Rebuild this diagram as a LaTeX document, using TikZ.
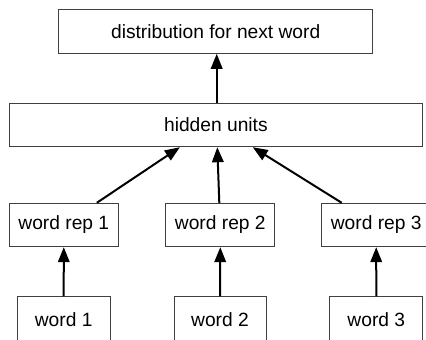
\documentclass[tikz,border=0pt]{standalone}
\usepackage{fontspec}
\setmainfont{Liberation Sans}
\usetikzlibrary{arrows.meta}
\begin{document}
\begin{tikzpicture}[x=1pt,y=-1pt,
  box/.style={draw=black!75,line width=1pt,rectangle,inner sep=0pt,
    font=\fontsize{19.2}{23}\selectfont},
  arr/.style={line width=2pt,-{Triangle[length=15pt,width=11.5pt]}}]
\useasboundingbox (0,0) rectangle (426,340);
\clip (0,0) rectangle (426,340);
\node[box,minimum width=314pt,minimum height=44pt] (dist) at (215.7,31.3) {distribution for next word};
\node[box,minimum width=413.2pt,minimum height=43.4pt] (hidden) at (215.9,125) {hidden units};
\node[box,minimum width=109pt,minimum height=43.4pt] (rep1) at (63.8,225) {word rep 1};
\node[box,minimum width=109.3pt,minimum height=43.4pt] (rep2) at (220.3,225) {word rep 2};
\node[box,minimum width=109pt,minimum height=43.4pt] (rep3) at (376.2,225) {word rep 3};
\node[box,minimum width=92.7pt,minimum height=45.5pt] (w1) at (63.7,319.5) {word 1};
\node[box,minimum width=92pt,minimum height=45.5pt] (w2) at (220,319.5) {word 2};
\node[box,minimum width=92.7pt,minimum height=45.5pt] (w3) at (376.3,319.5) {word 3};
\draw[arr] ([xshift=0.8pt]hidden.north) -- ([xshift=1pt]dist.south);
\draw[arr] ([xshift=33pt]rep1.north) -- ([xshift=-36pt]hidden.south);
\draw[arr] ([xshift=-1pt]rep2.north) -- ([xshift=1.4pt]hidden.south);
\draw[arr] ([xshift=-34.5pt]rep3.north) -- ([xshift=36.8pt]hidden.south);
\draw[arr] (w1.north) -- (rep1.south);
\draw[arr] (w2.north) -- (rep2.south);
\draw[arr] (w3.north) -- (rep3.south);
\end{tikzpicture}
\end{document}
